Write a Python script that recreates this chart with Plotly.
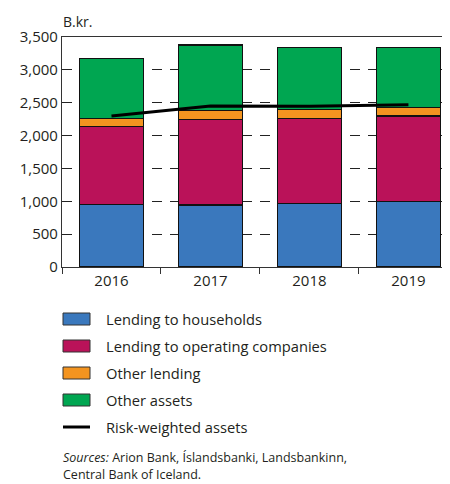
import plotly.graph_objects as go

years = ["2016", "2017", "2018", "2019"]
households = [955, 945, 970, 995]
companies = [1180, 1303, 1293, 1303]
other_lending = [128, 131, 137, 132]
other_assets = [913, 1000, 938, 914]
rwa = [2298, 2450, 2445, 2470]

series_names = ["Lending to households", "Lending to operating companies",
                "Other lending", "Other assets"]
series_colors = ["#3A78BD", "#BA1259", "#F39420", "#00A651"]
series_values = [households, companies, other_lending, other_assets]
line_name = "Risk-weighted assets"

FONT = "Open Sans"
TXT = "#231F20"
OFF = 8  # default body margin of the html page

fig = go.Figure()
for name, color, vals in zip(series_names, series_colors, series_values):
    fig.add_trace(go.Bar(x=years, y=vals, name=name, marker_color=color,
                         marker_line=dict(color="#111111", width=1.2),
                         width=0.64, showlegend=False))
fig.add_trace(go.Scatter(x=years, y=rwa, name=line_name, mode="lines",
                         line=dict(color="#000000", width=3), showlegend=False))

W, H = 450 - OFF, 484 - OFF
# plot area in page pixels
L, R, T, B = 62, 450, 37, 267
def px(x):
    return (x - L) / (R - L)
def py(y):
    return (B - y) / (B - T)

shapes = []
annotations = []
rows_y = [319, 346, 373, 400, 427]
for i, (name, color) in enumerate(zip(series_names, series_colors)):
    yc = rows_y[i]
    shapes.append(dict(type="rect", xref="paper", yref="paper",
                       x0=px(63), x1=px(90), y0=py(yc + 6), y1=py(yc - 6),
                       fillcolor=color, line=dict(color="#333333", width=1)))
    annotations.append(dict(xref="paper", yref="paper", x=px(104), y=py(yc),
                            text=name, showarrow=False, xanchor="left",
                            yanchor="middle", font=dict(size=14.7, color=TXT, family=FONT)))
yc = rows_y[4]
shapes.append(dict(type="line", xref="paper", yref="paper",
                   x0=px(63), x1=px(90), y0=py(yc), y1=py(yc),
                   line=dict(color="#000000", width=3)))
annotations.append(dict(xref="paper", yref="paper", x=px(104), y=py(yc),
                        text=line_name, showarrow=False, xanchor="left",
                        yanchor="middle", font=dict(size=14.7, color=TXT, family=FONT)))

annotations.append(dict(xref="paper", yref="paper", x=px(61), y=py(22),
                        text="B.kr.", showarrow=False, xanchor="left",
                        yanchor="middle", font=dict(size=14, color=TXT, family=FONT)))
annotations.append(dict(xref="paper", yref="paper", x=px(61), y=py(458),
                        text="<i>Sources:</i> Arion Bank, Íslandsbanki, Landsbankinn,",
                        showarrow=False, xanchor="left", yanchor="middle",
                        font=dict(size=12.5, color=TXT, family=FONT)))
annotations.append(dict(xref="paper", yref="paper", x=px(61), y=py(474),
                        text="Central Bank of Iceland.",
                        showarrow=False, xanchor="left", yanchor="middle",
                        font=dict(size=12.5, color=TXT, family=FONT)))

fig.update_layout(
    width=W, height=H,
    margin=dict(l=L - OFF, r=W - (R - OFF), t=T - OFF, b=H - (B - OFF), pad=0,
                autoexpand=False),
    barmode="stack",
    plot_bgcolor="white", paper_bgcolor="white",
    font=dict(family=FONT, size=15, color=TXT),
    showlegend=False,
    shapes=shapes, annotations=annotations,
)
fig.update_xaxes(type="category", range=[-0.5, 3.42], showline=True,
                 linecolor="#333333", linewidth=1.2, mirror=True,
                 ticks="outside", tickson="boundaries", ticklen=6,
                 tickcolor="#333333", showgrid=False,
                 tickfont=dict(size=15, color=TXT, family=FONT))
fig.update_yaxes(range=[0, 3500], tickvals=[0, 500, 1000, 1500, 2000, 2500, 3000, 3500],
                 tickformat=",", showline=True, linecolor="#333333", linewidth=1.2,
                 ticks="", showgrid=True, gridcolor="#222222", gridwidth=1,
                 griddash="10px,8px", zeroline=False,
                 tickfont=dict(size=15, color=TXT, family=FONT))

fig.write_html("out.html")
